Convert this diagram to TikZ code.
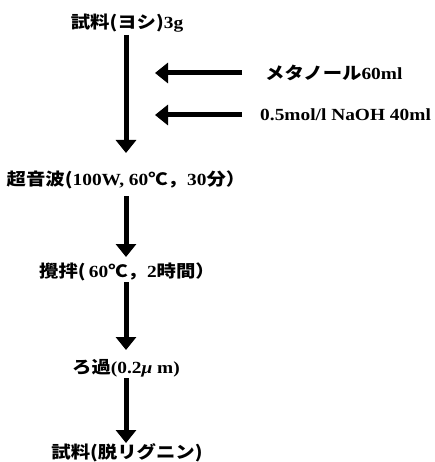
\documentclass[tikz,border=0pt]{standalone}
\usepackage{fontspec}
\setmainfont{Liberation Serif}
\newfontfamily\jp{Noto Sans CJK JP}
\usetikzlibrary{arrows.meta}
\newcommand\J[1]{{\jp\bfseries #1}}
\begin{document}
\begin{tikzpicture}[x=1pt,y=1pt,
  lbl/.style={inner sep=0pt, xscale=1.14, font=\fontsize{17}{19}\selectfont\bfseries},
  arr/.style={line width=5pt, -{Triangle[width=20pt,length=13pt]}}]
\useasboundingbox (0,0) rectangle (435,-462);
\node[lbl] (t1) at (127,-23) {\J{試料(ヨシ)}3g};
\node[lbl] (t2) at (126,-180) {\J{超音波(}100W, 60\J{℃，}30\J{分）}};
\node[lbl] (t3) at (127,-272) {\J{攪拌(}\,60\J{℃，}2\J{時間）}};
\node[lbl] (t4) at (126,-368) {\J{ろ過}(0.2{\itshape μ} m)};
\node[lbl] (t5) at (127,-453) {\J{試料(脱リグニン)}};
\node[lbl, anchor=west] (m1) at (265,-73) {\J{メタノール}60ml};
\node[lbl, anchor=west] (m2) at (260,-115) {0.5mol/l NaOH 40ml};
\coordinate (s1) at (242,-73);
\coordinate (e1) at (155,-73);
\coordinate (s2) at (242,-115);
\coordinate (e2) at (155,-115);
\coordinate (a1) at (126,-35);
\coordinate (b1) at (126,-153);
\coordinate (a2) at (126,-196);
\coordinate (b2) at (126,-257);
\coordinate (a3) at (126,-282);
\coordinate (b3) at (126,-350);
\coordinate (a4) at (126,-378);
\coordinate (b4) at (126,-443);
\draw[arr] (a1) -- (b1);
\draw[arr] (a2) -- (b2);
\draw[arr] (a3) -- (b3);
\draw[arr] (a4) -- (b4);
\draw[arr] (s1) -- (e1);
\draw[arr] (s2) -- (e2);
\end{tikzpicture}
\end{document}
